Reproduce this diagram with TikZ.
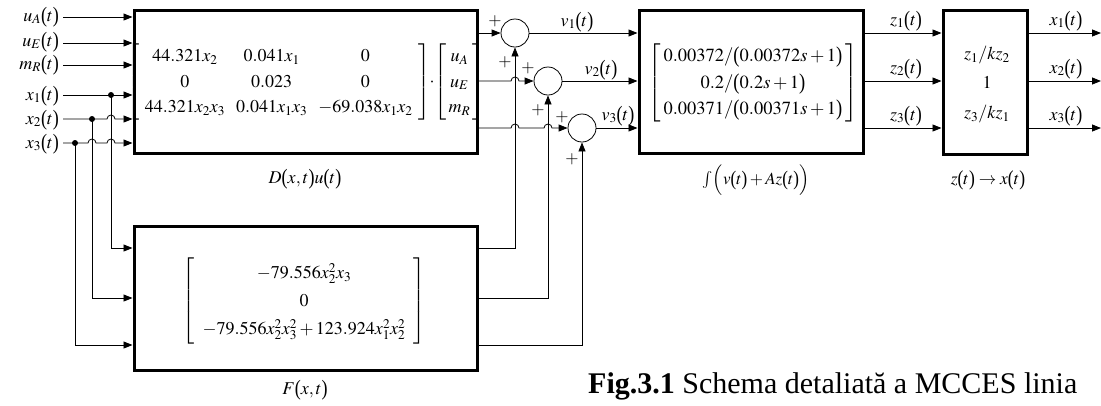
\documentclass[tikz,border=0pt]{standalone}
\usepackage{mathptmx}
\usepackage{fontspec}
\setmainfont{Liberation Serif}
\usetikzlibrary{arrows.meta}
\newcommand{\lpar}{\mathopen{\raisebox{-0.06em}{\scalebox{1}[1.22]{(}}}}
\newcommand{\rpar}{\mathclose{\raisebox{-0.06em}{\scalebox{1}[1.22]{)}}}}
\newcommand{\myp}[1]{\lpar#1\rpar}
\begin{document}
\begin{tikzpicture}[x=1pt,y=-1pt,
  every node/.style={font=\fontsize{18}{21.6}\selectfont, inner sep=0pt},
  blk/.style={draw, line width=3pt, inner sep=0pt},
  sumc/.style={draw, circle, line width=0.8pt, minimum size=28pt, inner sep=0pt},
  pls/.style={font=\fontsize{17}{20}\selectfont},
  ln/.style={line width=0.8pt},
  arr/.style={ln, -{Triangle[length=9pt,width=7pt]}},
  dotn/.style={fill, circle, minimum size=6pt, inner sep=0pt},
]
\useasboundingbox (0,0) rectangle (1101,405);

% blocks
\node[blk, minimum width=343pt, minimum height=143pt] (D) at (305.5,81.5) {};
\node[blk, minimum width=343pt, minimum height=144pt] (F) at (305.5,298) {};
\node[blk, minimum width=224pt, minimum height=143pt] (I) at (751,81.5) {};
\node[blk, minimum width=84pt, minimum height=144pt] (Z) at (985,82) {};

% block contents
\node (Dm) at (306,82) {\renewcommand{\arraystretch}{1.18}\setlength{\arraycolsep}{5.5pt}$\left[\begin{array}{ccc}
 44.321x_2 & 0.041x_1 & 0\\
 0 & 0.023 & 0\\
 44.321x_2x_3 & 0.041x_1x_3 & -69.038x_1x_2
 \end{array}\right]\mkern-3mu\cdot\mkern-3mu\left[\begin{array}{@{\hspace{2.5pt}}c@{\hspace{2.5pt}}} u_A\\ u_E\\ m_R\end{array}\right]$};
\node (Fm) at (304,301) {\renewcommand{\arraystretch}{1.3}$\left[\begin{array}{@{\hspace{8pt}}c@{\hspace{8pt}}}
 -79.556x_2^2x_3\\
 0\\
 -79.556x_2^2x_3^2+123.924x_1^2x_2^2
 \end{array}\right]$};
\node[font=\fontsize{18.5}{22}\selectfont] (Im) at (753,83) {\renewcommand{\arraystretch}{1.2}$\left[\begin{array}{@{\hspace{3pt}}c@{\hspace{3pt}}}
 0.00372/\myp{0.00372s+1}\\
 0.2/\myp{0.2s+1}\\
 0.00371/\myp{0.00371s+1}
 \end{array}\right]$};
\node (Zm) at (987,83) {\renewcommand{\arraystretch}{1.37}$\begin{array}{c}
 z_1/kz_2\\ 1\\ z_3/kz_1 \end{array}$};

% block labels
\node (Dl) at (305,179) {$D\myp{x,t}u\myp{t}$};
\node (Fl) at (305,390) {$F\myp{x,t}$};
\node[font=\fontsize{17}{20}\selectfont] (Il) at (756,180) {$\int\Bigl(v\myp{t}+Az\myp{t}\Bigr)$};
\node[font=\fontsize{17.5}{21}\selectfont] (Zl) at (988,180) {$z\myp{t}\to x\myp{t}$};

% summing junctions
\node[sumc] (s1) at (515,33) {};
\node[sumc] (s2) at (548,81) {};
\node[sumc] (s3) at (582,128) {};
\node[pls] at (495,21) {$+$};
\node[pls] at (505,62) {$+$};
\node[pls] at (528,68) {$+$};
\node[pls] at (538,110) {$+$};
\node[pls] at (562,117) {$+$};
\node[pls] at (572,159) {$+$};

% input labels and coordinates
\node[anchor=east] (lA) at (59,17) {$u_A\myp{t}$};
\node[anchor=east] (lE) at (59,42) {$u_E\myp{t}$};
\node[anchor=east] (lM) at (59,65) {$m_R\myp{t}$};
\node[anchor=east] (l1) at (59,96) {$x_1\myp{t}$};
\node[anchor=east] (l2) at (59,120) {$x_2\myp{t}$};
\node[anchor=east] (l3) at (59,144) {$x_3\myp{t}$};
\coordinate (iA) at (63,17);
\coordinate (iE) at (63,43);
\coordinate (iM) at (63,65);
\coordinate (i1) at (63,95);
\coordinate (i2) at (63,119);
\coordinate (i3) at (63,143);
\node[dotn] (j1) at (111,95) {};
\node[dotn] (j2) at (92,119) {};
\node[dotn] (j3) at (75,143) {};

% inputs to D
\draw[arr] (iA) -- (iA -| D.west);
\draw[arr] (iE) -- (iE -| D.west);
\draw[arr] (iM) -- (iM -| D.west);
\draw[arr] (i1) -- (i1 -| D.west);
\draw[arr] (i2) -- (107,119) arc[start angle=180,end angle=360,radius=4] -- (i2 -| D.west);
\draw[arr] (i3) -- (88,143) arc[start angle=180,end angle=360,radius=4]
  -- (107,143) arc[start angle=180,end angle=360,radius=4] -- (i3 -| D.west);

% feedback to F
\draw[arr] (j1.center) |- ([yshift=50pt]F.west);
\draw[arr] (j2.center) |- (F.west);
\draw[arr] (j3.center) |- ([yshift=-47pt]F.west);

% D outputs to sums
\draw[arr] (D.east |- s1) -- (s1.west);
\draw[arr] (D.east |- s2) -- (511,81) arc[start angle=180,end angle=360,radius=4] -- (s2.west);
\draw[arr] (D.east |- s3) -- (511,128) arc[start angle=180,end angle=360,radius=4]
  -- (544,128) arc[start angle=180,end angle=360,radius=4] -- (s3.west);

% F outputs to sums
\draw[arr] ([yshift=50pt]F.east) -| (s1.south);
\draw[arr] (F.east) -| (s2.south);
\draw[arr] ([yshift=-47pt]F.east) -| (s3.south);

% sums to integrator
\draw[arr] (s1.east) -- (s1 -| I.west);
\draw[arr] (s2.east) -- (s2 -| I.west);
\draw[arr] (s3.east) -- (s3 -| I.west);
\node (v1) at (577,22) {$v_1\myp{t}$};
\node (v2) at (601,70) {$v_2\myp{t}$};
\node (v3) at (618,116) {$v_3\myp{t}$};

% integrator to Z
\draw[arr] (I.east |- s1) -- (Z.west |- s1);
\draw[arr] (I.east |- s2) -- (Z.west |- s2);
\draw[arr] (I.east |- s3) -- (Z.west |- s3);
\node (z1) at (906,21) {$z_1\myp{t}$};
\node (z2) at (906,69) {$z_2\myp{t}$};
\node (z3) at (906,116) {$z_3\myp{t}$};

% outputs
\coordinate (o1) at (1101,33);
\coordinate (o2) at (1101,81);
\coordinate (o3) at (1101,128);
\draw[arr] (Z.east |- o1) -- (o1);
\draw[arr] (Z.east |- o2) -- (o2);
\draw[arr] (Z.east |- o3) -- (o3);
\node (x1) at (1066,21) {$x_1\myp{t}$};
\node (x2) at (1066,69) {$x_2\myp{t}$};
\node (x3) at (1066,116) {$x_3\myp{t}$};

% caption
\node[anchor=base west, font=\fontsize{30}{36}\selectfont] (cap) at (588,393)
  {\textbf{Fig.3.1} Schema detaliată a MCCES linia};
\end{tikzpicture}
\end{document}
